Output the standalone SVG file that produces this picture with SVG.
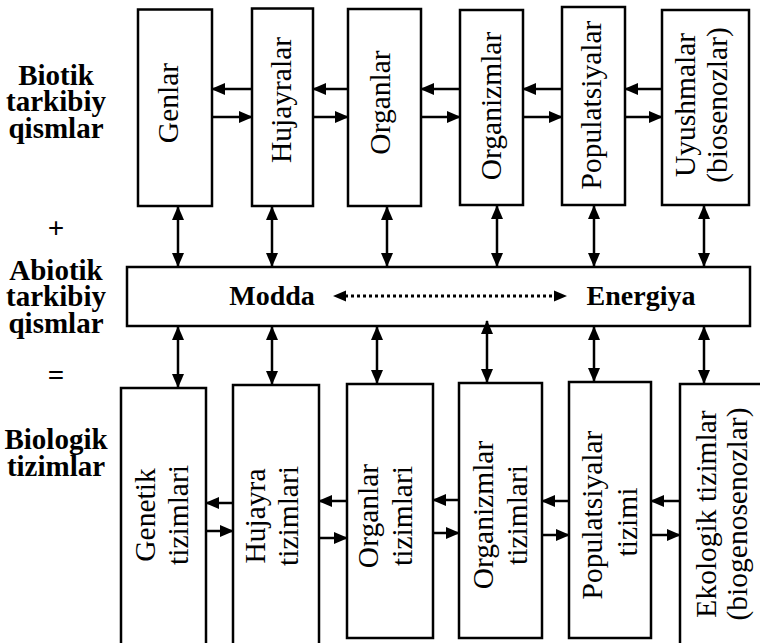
<svg xmlns="http://www.w3.org/2000/svg" width="760" height="643" viewBox="0 0 760 643">
<style>
.box{fill:#fff;stroke:#000;stroke-width:2.5}
.ln{stroke:#000;stroke-width:2.5;fill:none}
.dot{stroke:#000;stroke-width:3;fill:none;stroke-dasharray:3 3}
.t{font-family:"Liberation Serif","Times New Roman",serif;font-size:29.5px;fill:#000;text-anchor:middle}
.b{font-family:"Liberation Serif","Times New Roman",serif;font-size:28px;font-weight:bold;fill:#000;text-anchor:middle}
.lb{font-family:"Liberation Serif","Times New Roman",serif;font-size:29px;font-weight:bold;fill:#000;text-anchor:middle}
</style>
<defs>
<marker id="ah" viewBox="0 0 14 12" refX="13" refY="6" markerWidth="14" markerHeight="12" markerUnits="userSpaceOnUse" orient="auto-start-reverse">
<path d="M0,0 L14,6 L0,12 z" fill="#000"/>
</marker>
</defs>
<rect width="760" height="643" fill="#fff"/>

<g id="labels">
<text class="lb" x="56" y="85">Biotik</text>
<text class="lb" x="56" y="111">tarkibiy</text>
<text class="lb" x="56" y="138">qismlar</text>
<text class="lb" x="56" y="238">+</text>
<text class="lb" x="56" y="280">Abiotik</text>
<text class="lb" x="56" y="306">tarkibiy</text>
<text class="lb" x="56" y="333">qismlar</text>
<text class="lb" x="56" y="385">=</text>
<text class="lb" x="56" y="449">Biologik</text>
<text class="lb" x="56" y="476">tizimlar</text>
</g>

<g id="n-genlar"><rect class="box" x="138" y="9.5" width="74" height="196.5"/><text class="t" transform="translate(178,103) rotate(-90)">Genlar</text></g>
<g id="n-hujayralar"><rect class="box" x="252" y="8.5" width="61" height="197.5"/><text class="t" transform="translate(291,100) rotate(-90)">Hujayralar</text></g>
<g id="n-organlar"><rect class="box" x="348" y="9" width="73" height="197"/><text class="t" transform="translate(390,102.5) rotate(-90)">Organlar</text></g>
<g id="n-organizmlar"><rect class="box" x="460" y="10" width="63" height="195"/><text class="t" transform="translate(501,106) rotate(-90)">Organizmlar</text></g>
<g id="n-populatsiyalar"><rect class="box" x="562" y="7" width="63" height="198"/><text class="t" transform="translate(601,105) rotate(-90)">Populatsiyalar</text></g>
<g id="n-uyushmalar"><rect class="box" x="662" y="10" width="87" height="195"/><text class="t" transform="translate(695,105) rotate(-90)">Uyushmalar</text><text class="t" transform="translate(727,105) rotate(-90)">(biosenozlar)</text></g>

<g id="n-modda-energiya"><rect class="box" x="127" y="267" width="623" height="59"/><text class="b" x="272" y="305">Modda</text><text class="b" x="641" y="305">Energiya</text></g>

<g id="n-genetik"><rect class="box" x="121" y="388" width="85" height="270"/><text class="t" transform="translate(155,515) rotate(-90)">Genetik</text><text class="t" transform="translate(188,515) rotate(-90)">tizimlari</text></g>
<g id="n-hujayra"><rect class="box" x="233" y="385" width="86" height="270"/><text class="t" transform="translate(265,516) rotate(-90)">Hujayra</text><text class="t" transform="translate(298,516) rotate(-90)">tizimlari</text></g>
<g id="n-organlar-t"><rect class="box" x="347" y="384" width="86" height="254"/><text class="t" transform="translate(378,516) rotate(-90)">Organlar</text><text class="t" transform="translate(412,516) rotate(-90)">tizimlari</text></g>
<g id="n-organizmlar-t"><rect class="box" x="459" y="383" width="83" height="255"/><text class="t" transform="translate(493,515) rotate(-90)">Organizmlar</text><text class="t" transform="translate(527,515) rotate(-90)">tizimlari</text></g>
<g id="n-populatsiyalar-t"><rect class="box" x="569" y="382" width="82" height="256"/><text class="t" transform="translate(602,515) rotate(-90)">Populatsiyalar</text><text class="t" transform="translate(637,522) rotate(-90)">tizimi</text></g>
<g id="n-ekologik"><rect class="box" x="680" y="384" width="90" height="270"/><text class="t" transform="translate(716,514) rotate(-90)">Ekologik tizimlar</text><text class="t" transform="translate(747,514) rotate(-90)">(biogenosenozlar)</text></g>

<g id="connectors" class="ln">
<line x1="252" y1="89" x2="212" y2="89" marker-end="url(#ah)"/>
<line x1="212" y1="117" x2="252" y2="117" marker-end="url(#ah)"/>
<line x1="348" y1="89" x2="313" y2="89" marker-end="url(#ah)"/>
<line x1="313" y1="117" x2="348" y2="117" marker-end="url(#ah)"/>
<line x1="460" y1="89" x2="421" y2="89" marker-end="url(#ah)"/>
<line x1="421" y1="117" x2="460" y2="117" marker-end="url(#ah)"/>
<line x1="562" y1="89" x2="523" y2="89" marker-end="url(#ah)"/>
<line x1="523" y1="117" x2="562" y2="117" marker-end="url(#ah)"/>
<line x1="662" y1="89" x2="625" y2="89" marker-end="url(#ah)"/>
<line x1="625" y1="117" x2="662" y2="117" marker-end="url(#ah)"/>

<line x1="178" y1="207" x2="178" y2="266" marker-start="url(#ah)" marker-end="url(#ah)"/>
<line x1="272" y1="207" x2="272" y2="266" marker-start="url(#ah)" marker-end="url(#ah)"/>
<line x1="387" y1="207" x2="387" y2="266" marker-start="url(#ah)" marker-end="url(#ah)"/>
<line x1="497" y1="206" x2="497" y2="266" marker-start="url(#ah)" marker-end="url(#ah)"/>
<line x1="594" y1="206" x2="594" y2="266" marker-start="url(#ah)" marker-end="url(#ah)"/>
<line x1="704" y1="206" x2="704" y2="266" marker-start="url(#ah)" marker-end="url(#ah)"/>

<line x1="178" y1="327" x2="178" y2="387" marker-start="url(#ah)" marker-end="url(#ah)"/>
<line x1="272" y1="327" x2="272" y2="384" marker-start="url(#ah)" marker-end="url(#ah)"/>
<line x1="377" y1="327" x2="377" y2="383" marker-start="url(#ah)" marker-end="url(#ah)"/>
<line x1="487" y1="321" x2="487" y2="382" marker-start="url(#ah)" marker-end="url(#ah)"/>
<line x1="594" y1="327" x2="594" y2="381" marker-start="url(#ah)" marker-end="url(#ah)"/>
<line x1="704" y1="327" x2="704" y2="383" marker-start="url(#ah)" marker-end="url(#ah)"/>

<line x1="233" y1="503" x2="206" y2="503" marker-end="url(#ah)"/>
<line x1="206" y1="531" x2="233" y2="531" marker-end="url(#ah)"/>
<line x1="347" y1="501" x2="319" y2="501" marker-end="url(#ah)"/>
<line x1="319" y1="538" x2="347" y2="538" marker-end="url(#ah)"/>
<line x1="459" y1="500" x2="433" y2="500" marker-end="url(#ah)"/>
<line x1="433" y1="533" x2="459" y2="533" marker-end="url(#ah)"/>
<line x1="569" y1="501" x2="542" y2="501" marker-end="url(#ah)"/>
<line x1="542" y1="535" x2="569" y2="535" marker-end="url(#ah)"/>
<line x1="680" y1="501" x2="651" y2="501" marker-end="url(#ah)"/>
<line x1="651" y1="535" x2="680" y2="535" marker-end="url(#ah)"/>

<line class="dot" x1="345" y1="296" x2="555" y2="296"/>
<path d="M333,296 L346,290.5 L346,301.5 z M567,296 L554,290.5 L554,301.5 z" fill="#000" stroke="none"/>
</g>
</svg>
